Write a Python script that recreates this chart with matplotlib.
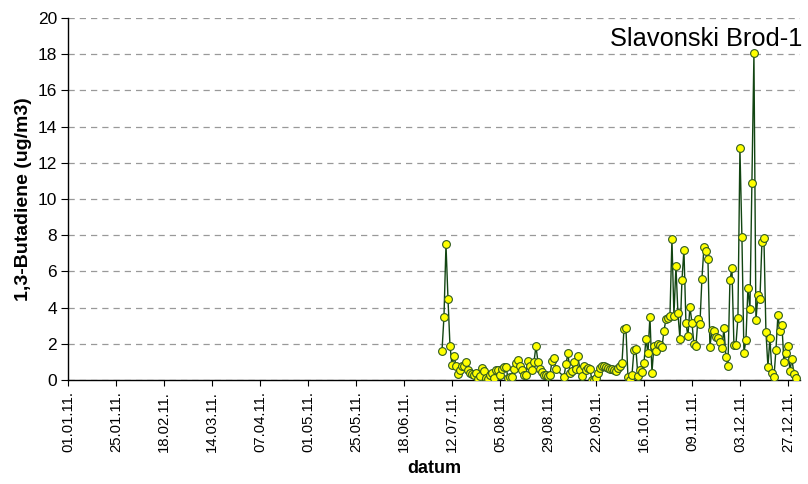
import numpy as np
import pandas as pd
import matplotlib
matplotlib.use("Agg")
import matplotlib.pyplot as plt
import matplotlib.dates as mdates

# -------------------------------
# Data: daily 1,3-butadiene, 07.07.2011 - 31.12.2011
# -------------------------------
start_date = "2011-07-07"
butadiene = [
    1.6, 3.5, 7.5, 4.5, 1.9, 0.85, 1.35, 0.8, 0.35, 0.55,
    0.75, 0.8, 1.0, 0.55, 0.4, 0.35, 0.3, 0.4, 0.07, 0.2,
    0.68, 0.5, 0.1, 0.07, 0.3, 0.4, 0.13, 0.53, 0.55, 0.26,
    0.62, 0.73, 0.73, 0.13, 0.15, 0.17, 0.6, 0.92, 1.1, 0.8,
    0.55, 0.3, 0.3, 1.05, 0.8, 0.53, 1.0, 1.87, 1.0, 0.6,
    0.45, 0.26, 0.26, 0.22, 0.26, 1.05, 1.22, 0.6, np.nan, np.nan,
    np.nan, 0.18, 0.86, 1.5, 0.4, 0.5, 1.0, 0.6, 1.3, 0.55,
    0.22, 0.8, 0.55, 0.68, 0.6, 0.0, 0.02, 0.13, 0.37, 0.68,
    0.77, 0.8, 0.72, 0.68, 0.6, 0.62, 0.55, 0.5, 0.64, 0.8,
    0.92, 2.8, 2.85, 0.18, 0.0, 0.26, 1.65, 1.7, 0.2, 0.55,
    0.45, 0.92, 2.28, 1.47, 3.5, 0.4, 1.9, 1.6, 2.0, 1.95,
    1.8, 2.7, 3.37, 3.45, 3.55, 7.8, 3.55, 6.3, 3.68, 2.28,
    5.5, 7.2, 3.13, 2.43, 4.05, 3.17, 1.97, 1.9, 3.35, 3.1,
    5.6, 7.33, 7.15, 6.67, 1.84, 2.76, 2.7, 2.4, 2.3, 2.1,
    1.75, 2.85, 1.29, 0.77, 5.5, 6.2, 1.92, 1.95, 3.44, 12.8,
    7.88, 1.5, 2.2, 5.1, 3.92, 10.9, 18.05, 3.3, 4.68, 4.46,
    7.6, 7.83, 2.67, 0.74, 2.3, 0.4, 0.15, 1.66, 3.6, 2.72,
    3.04, 1.0, 1.5, 1.9, 0.5, 1.16, 0.35, 0.1,
]
station = "Slavonski Brod-1"

dates = pd.date_range(start_date, periods=len(butadiene), freq="D")
series = pd.Series(butadiene, index=dates).dropna()

# tick dates every 24 days from 01.01.11
tick_dates = pd.date_range("2011-01-01", "2011-12-31", freq="24D")

plt.rcParams["font.family"] = ["Liberation Sans", "DejaVu Sans"]

# -------------------------------
# Plot
# -------------------------------
fig = plt.figure(figsize=(8.08, 4.84), dpi=100)
ax = fig.add_axes([0.0842, 0.2149, 0.9058, 0.7479])

ax.plot(series.index, series.values, color="#124512", linewidth=1.0,
        marker="o", markersize=5.6, markerfacecolor="#FFFF00",
        markeredgecolor="#2F5A22", markeredgewidth=0.8, zorder=3)

ax.set_xlim(pd.Timestamp("2011-01-01"), pd.Timestamp("2012-01-02"))
ax.set_ylim(0, 20)
ax.set_yticks(np.arange(0, 21, 2))
ax.set_xticks(tick_dates)
ax.xaxis.set_major_formatter(mdates.DateFormatter("%d.%m.%y."))
ax.tick_params(axis="x", labelrotation=90, labelsize=10.7, length=4,
               direction="out", pad=4)
ax.tick_params(axis="y", labelsize=12.5, length=5, direction="out", pad=3)

ax.grid(axis="y", color="#999999", linestyle=(0, (5, 4)), linewidth=0.9)
ax.set_axisbelow(True)
for side in ["top", "right"]:
    ax.spines[side].set_visible(False)
for side in ["left", "bottom"]:
    ax.spines[side].set_linewidth(1.0)

ax.set_xlabel("datum", fontsize=13, fontweight="bold", labelpad=6)
ax.set_ylabel("1,3-Butadiene (ug/m3)", fontsize=14, fontweight="bold",
              labelpad=4)

ax.text(1.003, 0.942, station, transform=ax.transAxes, ha="right",
        va="center", fontsize=18.3)

fig.savefig("out.png", dpi=100)
